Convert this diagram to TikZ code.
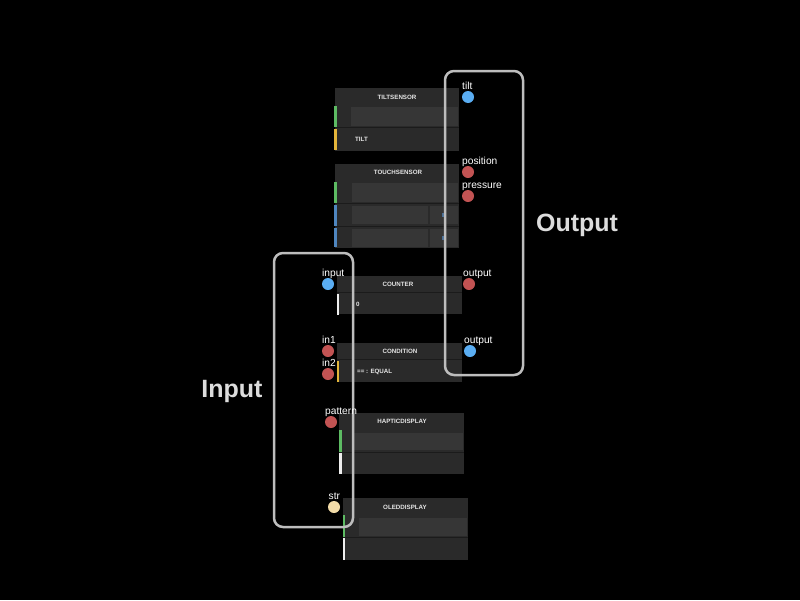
\documentclass[tikz,border=0pt]{standalone}
\usepackage{fontspec}
\setmainfont{Liberation Sans}
\definecolor{blockbg}{HTML}{2A2A2A}
\definecolor{innerbg}{HTML}{363636}
\definecolor{sepc}{HTML}{1B1B1B}
\definecolor{framec}{HTML}{BDBDBD}
\definecolor{portblue}{HTML}{5AADF2}
\definecolor{portred}{HTML}{C25353}
\definecolor{portcream}{HTML}{F3DCA8}
\definecolor{stgreen}{HTML}{5DBB63}
\definecolor{styellow}{HTML}{E3B53A}
\definecolor{stblue}{HTML}{4F86BF}
\definecolor{stwhite}{HTML}{EEEEEE}
\definecolor{bigtext}{HTML}{DDDDDD}
\definecolor{markc}{HTML}{4A6F96}
\definecolor{titletext}{HTML}{E6E6E6}
\tikzset{
  blockfill/.style={fill=blockbg},
  innerbox/.style={fill=innerbg},
  sepline/.style={draw=sepc, line width=1pt},
  stripe/.style={line width=2.5pt},
  frame/.style={draw=framec, line width=2.5pt, rounded corners=9pt},
  port/.style={circle, inner sep=0pt, minimum size=12pt},
  plabel/.style={anchor=base west, inner sep=0pt, text=white, font=\fontsize{10.2}{12}\selectfont},
  btitle/.style={inner sep=0pt, text=titletext, font=\bfseries\fontsize{6.2}{7}\selectfont},
  btext/.style={anchor=west, inner sep=0pt, text=titletext, font=\bfseries\fontsize{6.2}{7}\selectfont},
  big/.style={inner sep=0pt, text=bigtext, font=\bfseries\fontsize{25}{30}\selectfont},
}
\begin{document}
\begin{tikzpicture}[x=1pt,y=-1pt]
\useasboundingbox (0,0) rectangle (800,600);
\fill[black] (0,0) rectangle (800,600);

% TILTSENSOR
\fill[blockfill] (335,88) rectangle (459,151);
\fill[innerbox] (351,107) rectangle (458,126);
\draw[sepline] (335,127.5) -- (459,127.5);
\draw[stripe,stgreen] (335.5,106) -- (335.5,127);
\draw[stripe,styellow] (335.5,128.5) -- (335.5,150);
\node[btitle] (tsT) at (397,97) {TILTSENSOR};
\node[btext] (tsR) at (355,139) {TILT};

% TOUCHSENSOR
\fill[blockfill] (335,164) rectangle (459,248);
\fill[innerbox] (352,183) rectangle (458,202);
\draw[sepline] (335,203.5) -- (459,203.5);
\fill[innerbox] (352,206) rectangle (428,224);
\fill[innerbox] (430,206) rectangle (458,224);
\draw[sepline] (335,226.5) -- (459,226.5);
\fill[innerbox] (352,229) rectangle (428,247);
\fill[innerbox] (430,229) rectangle (458,247);
\fill[markc] (442,213) rectangle (443.5,217);
\fill[markc] (442,236) rectangle (443.5,240);
\draw[stripe,stgreen] (335.5,182) -- (335.5,203);
\draw[stripe,stblue] (335.5,204.5) -- (335.5,225.5);
\draw[stripe,stblue] (335.5,227.5) -- (335.5,247);
\node[btitle] (thT) at (398,172) {TOUCHSENSOR};

% COUNTER
\fill[blockfill] (337,276) rectangle (462,314);
\draw[sepline] (337,292.5) -- (462,292.5);
\draw[stripe,stwhite] (338,294) -- (338,315);
\node[btitle] (coT) at (398,284) {COUNTER};
\node[btext] (coR) at (356,304) {0};

% CONDITION
\fill[blockfill] (337,343) rectangle (462,382);
\draw[sepline] (337,359.5) -- (462,359.5);
\draw[stripe,styellow] (338,361) -- (338,382);
\node[btitle] (cnT) at (400,351) {CONDITION};
\node[btext] (cnR) at (357,372) {== : EQUAL};

% HAPTICDISPLAY
\fill[blockfill] (339,413) rectangle (464,474);
\fill[innerbox] (353,433) rectangle (463,450);
\draw[sepline] (339,452.5) -- (464,452.5);
\draw[stripe,stgreen] (340.5,430) -- (340.5,452);
\draw[stripe,stwhite] (340.5,453) -- (340.5,474);
\node[btitle] (hdT) at (402,421) {HAPTICDISPLAY};

% OLEDDISPLAY
\fill[blockfill] (343,498) rectangle (468,560);
\fill[innerbox] (359,518) rectangle (467,536);
\draw[sepline] (343,537.5) -- (468,537.5);
\draw[stripe,stgreen] (344,515) -- (344,537);
\draw[stripe,stwhite] (344,538) -- (344,560);
\node[btitle] (odT) at (405,507) {OLEDDISPLAY};

% Frames
\draw[frame] (274,253) rectangle (353,527);
\draw[frame] (445,71) rectangle (523,375);

% Output ports
\node[port,fill=portblue] (tilt) at (468,97) {};
\node[plabel] (tiltL) at (462,89.5) {tilt};
\node[port,fill=portred] (position) at (468,172) {};
\node[plabel] (positionL) at (462,164.5) {position};
\node[port,fill=portred] (pressure) at (468,196) {};
\node[plabel] (pressureL) at (462,188.5) {pressure};
\node[port,fill=portred] (outA) at (469,284) {};
\node[plabel] (outAL) at (463,276.5) {output};
\node[port,fill=portblue] (outB) at (470,351) {};
\node[plabel] (outBL) at (464,343.5) {output};

% Input ports
\node[port,fill=portblue] (input) at (328,284) {};
\node[plabel] (inputL) at (322,276.5) {input};
\node[port,fill=portred] (in1) at (328,351) {};
\node[plabel] (in1L) at (322,343.5) {in1};
\node[port,fill=portred] (in2) at (328,374) {};
\node[plabel] (in2L) at (322,366.5) {in2};
\node[port,fill=portred] (pattern) at (331,422) {};
\node[plabel] (patternL) at (325,414.5) {pattern};
\node[port,fill=portcream] (str) at (334,507) {};
\node[plabel] (strL) at (328.5,499.5) {str};

% Big labels
\node[big] (inLbl) at (232,391.5) {Input};
\node[big] (outLbl) at (577,225.5) {Output};
\end{tikzpicture}
\end{document}
